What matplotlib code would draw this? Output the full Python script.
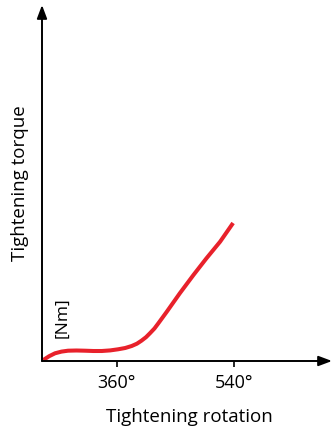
import matplotlib.pyplot as plt

# rotation (degrees) vs torque (arbitrary units)
rotation = [247, 256, 265, 275, 285, 298, 311, 324, 337, 350, 362, 373, 383, 391, 398, 405, 411, 418, 424, 437, 457, 478, 498, 519, 539]
torque = [1, 4.8, 7.7, 9.4, 10.3, 10.5, 10.3, 10.0, 10.0, 10.6, 11.7, 13.0, 15.0, 17.3, 20.3, 23.8, 27.7, 32.5, 37.7, 49.3, 67.7, 86, 102.7, 119.3, 138]
tick_pos = [360, 540]
tick_labels = ['360°', '540°']

plt.rcParams['font.family'] = ['Open Sans', 'DejaVu Sans']

W, H = 332, 429
fig = plt.figure(figsize=(W / 100, H / 100), dpi=100)
ax = fig.add_axes([42 / W, 68 / H, 290 / W, 356 / H])
ax.set_xlim(245, 245 + 290 / 0.65)
ax.set_ylim(0, 356)

ax.plot(rotation, torque, color='#e8212b', lw=2.9, solid_capstyle='butt', solid_joinstyle='round', clip_on=False)

# axes with arrow heads
for s in ax.spines.values():
    s.set_visible(False)
ax.annotate('', xy=(1.0, 0), xytext=(0, 0), xycoords='axes fraction',
            arrowprops=dict(arrowstyle='-|>,head_length=0.8,head_width=0.3', color='black', lw=1.4, shrinkA=0, shrinkB=0))
ax.annotate('', xy=(0, 1.0), xytext=(0, 0), xycoords='axes fraction',
            arrowprops=dict(arrowstyle='-|>,head_length=0.8,head_width=0.3', color='black', lw=1.4, shrinkA=0, shrinkB=0))

ax.set_xticks(tick_pos)
ax.set_xticklabels(tick_labels, fontsize=13)
ax.set_yticks([])
ax.tick_params(axis='x', direction='out', length=4, width=1.2, pad=5)


def px(x, y):
    return x / W, 1 - y / H


fig.text(*px(189, 417), 'Tightening rotation', fontsize=13.5, ha='center', va='center')
fig.text(*px(20, 183), 'Tightening torque', fontsize=13.5, rotation=90, ha='center', va='center')
fig.text(*px(62, 318), '[Nm]', fontsize=12.5, rotation=90, ha='center', va='center')

plt.savefig('out.png', dpi=100)
